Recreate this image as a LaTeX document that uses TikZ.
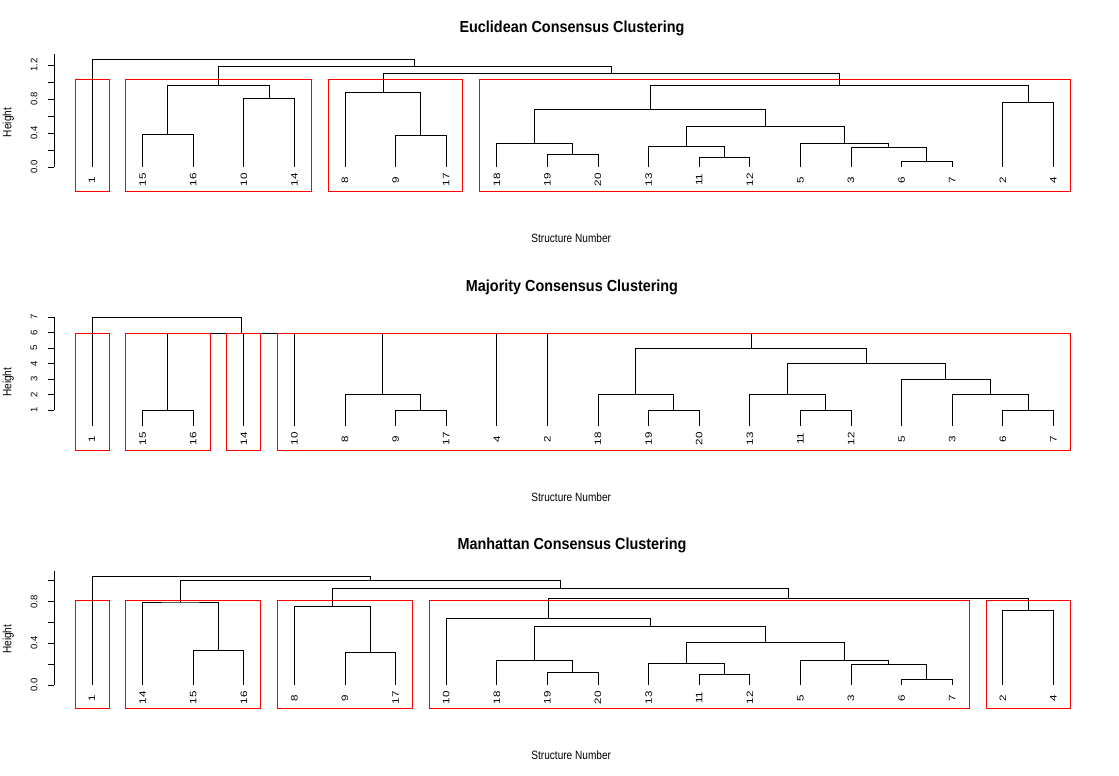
\documentclass[tikz,border=0pt]{standalone}
\usepackage{fontspec}
\setmainfont{Liberation Sans}
\newfontfamily\titlef[FakeStretch=0.9]{Liberation Sans}
\newfontfamily\labf[FakeStretch=0.84]{Liberation Sans}
\newfontfamily\leaff[FakeStretch=1.25]{Liberation Sans}
\begin{document}
\begin{tikzpicture}[x=1pt,y=-1pt,
  tree/.style={draw=black,line width=1pt},
  redbox/.style={draw=red,line width=1pt},
  leaflab/.style={rotate=90,font=\leaff\fontsize{9.3}{9.3}\selectfont,inner sep=0pt},
  ticklab/.style={rotate=90,font=\fontsize{9.5}{9.5}\selectfont,inner sep=0pt},
  axtitle/.style={rotate=90,font=\labf\fontsize{12}{12}\selectfont,inner sep=0pt},
  ptitle/.style={font=\titlef\bfseries\fontsize{16}{16}\selectfont,inner sep=0pt,anchor=base},
  xlab/.style={font=\labf\fontsize{12}{12}\selectfont,inner sep=0pt}]
\useasboundingbox[fill=white] (0,0) rectangle (1119,776);

% ================= Panel 1: Euclidean =================
\node[ptitle] (t1) at (572,32.3) {Euclidean Consensus Clustering};
\node[xlab] (x1) at (571.2,238.3) {Structure Number};
\node[axtitle] (y1) at (8.3,122.5) {Height};
\draw[tree] (54.3,167.3) -- (54.3,54.3);
\foreach \y in {167.3,150.3,133.3,116.3,99.3,82.3,65.3} \draw[tree] (47.7,\y) -- (54.3,\y);
\node[ticklab] (etk00) at (34,167.3) {0.0};
\node[ticklab] (etk04) at (34,133.3) {0.4};
\node[ticklab] (etk08) at (34,99.3) {0.8};
\node[ticklab] (etk12) at (34,65.3) {1.2};

\foreach \lab [count=\i] in {1,15,16,10,14,8,9,17,18,19,20,13,11,12,5,3,6,7,2,4} {
  \coordinate (e\lab) at ({92+50.6*(\i-1)},167.3);
  \node[leaflab] (el\lab) at ({92+50.6*(\i-1)},179.8) {\lab};
}
\coordinate (e1516) at (167.9,134.3);
\coordinate (e1014) at (269.1,98.3);
\coordinate (eA) at (218.5,85.3);
\coordinate (e917) at (420.9,135.3);
\coordinate (eB) at (383,92.3);
\coordinate (e1920) at (572.7,154.3);
\coordinate (e18x) at (534.75,143.3);
\coordinate (e1112) at (724.5,157.3);
\coordinate (e13x) at (686.55,146.3);
\coordinate (e67) at (926.9,161.3);
\coordinate (e3x) at (888.95,147.3);
\coordinate (e5x) at (844.7,143.3);
\coordinate (e13to7) at (765.6,126.3);
\coordinate (eleft) at (650.2,109.3);
\coordinate (e24) at (1028.1,102.3);
\coordinate (eC) at (839.1,85.3);
\coordinate (eBC) at (611.05,73.3);
\coordinate (eABC) at (414.8,66.3);
\coordinate (eroot) at (253.4,59.3);

\draw[tree] (e15) |- (e1516) -| (e16);
\draw[tree] (e10) |- (e1014) -| (e14);
\draw[tree] (e1516) |- (eA) -| (e1014);
\draw[tree] (e9) |- (e917) -| (e17);
\draw[tree] (e8) |- (eB) -| (e917);
\draw[tree] (e19) |- (e1920) -| (e20);
\draw[tree] (e18) |- (e18x) -| (e1920);
\draw[tree] (e11) |- (e1112) -| (e12);
\draw[tree] (e13) |- (e13x) -| (e1112);
\draw[tree] (e6) |- (e67) -| (e7);
\draw[tree] (e3) |- (e3x) -| (e67);
\draw[tree] (e5) |- (e5x) -| (e3x);
\draw[tree] (e13x) |- (e13to7) -| (e5x);
\draw[tree] (e18x) |- (eleft) -| (e13to7);
\draw[tree] (e2) |- (e24) -| (e4);
\draw[tree] (eleft) |- (eC) -| (e24);
\draw[tree] (eB) |- (eBC) -| (eC);
\draw[tree] (eA) |- (eABC) -| (eBC);
\draw[tree] (e1) |- (eroot) -| (eABC);

\draw[redbox] (75.4,79.3) rectangle (109.3,191.3);
\draw[redbox] (125.4,79.3) rectangle (311.4,191.3);
\draw[redbox] (328.2,79.3) rectangle (462.5,191.3);
\draw[redbox] (479.3,79.3) rectangle (1070.3,191.3);

% ================= Panel 2: Majority =================
\node[ptitle] (t2) at (572,291) {Majority Consensus Clustering};
\node[xlab] (x2) at (571.2,497) {Structure Number};
\node[axtitle] (y2) at (8.3,382.2) {Height};
\draw[tree] (54.3,410.3) -- (54.3,317.3);
\foreach \h in {1,...,7} {
  \draw[tree] (47.7,{425.8-15.5*\h}) -- (54.3,{425.8-15.5*\h});
  \node[ticklab] (mt\h) at (34,{425.8-15.5*\h}) {\h};
}
\foreach \lab [count=\i] in {1,15,16,14,10,8,9,17,4,2,18,19,20,13,11,12,5,3,6,7} {
  \coordinate (m\lab) at ({92+50.6*(\i-1)},426.3);
  \node[leaflab] (ml\lab) at ({92+50.6*(\i-1)},438.8) {\lab};
}
\coordinate (m1516) at (167.9,410.3);
\coordinate (m917) at (420.9,410.3);
\coordinate (m8x) at (382.95,394.8);
\coordinate (m1920) at (673.9,410.3);
\coordinate (m18x) at (635.95,394.8);
\coordinate (m1112) at (825.7,410.3);
\coordinate (m13x) at (787.75,394.8);
\coordinate (m67) at (1028.1,410.3);
\coordinate (m3x) at (990.15,394.8);
\coordinate (m5x) at (945.9,379.3);
\coordinate (m4x) at (866.8,363.8);
\coordinate (mbig) at (751.4,348.3);
\coordinate (mhsix) at (241.8,333);
\coordinate (mroot) at (166.9,317.3);

\draw[tree] (m15) |- (m1516) -| (m16);
\draw[tree] (m9) |- (m917) -| (m17);
\draw[tree] (m8) |- (m8x) -| (m917);
\draw[tree] (m19) |- (m1920) -| (m20);
\draw[tree] (m18) |- (m18x) -| (m1920);
\draw[tree] (m11) |- (m1112) -| (m12);
\draw[tree] (m13) |- (m13x) -| (m1112);
\draw[tree] (m6) |- (m67) -| (m7);
\draw[tree] (m3) |- (m3x) -| (m67);
\draw[tree] (m5) |- (m5x) -| (m3x);
\draw[tree] (m13x) |- (m4x) -| (m5x);
\draw[tree] (m18x) |- (mbig) -| (m4x);
\draw[tree] (m1516 |- mhsix) -- (mbig |- mhsix);
\foreach \c in {m1516,m14,m10,m8x,m4,m2,mbig} \draw[tree] (\c) -- (\c |- mhsix);
\draw[tree] (m1) |- (mroot) -| (mhsix);

\draw[redbox] (75.4,333) rectangle (109.3,450.3);
\draw[redbox] (125.4,333) rectangle (210.4,450.3);
\draw[redbox] (226.8,333) rectangle (260.7,450.3);
\draw[redbox] (277.5,333) rectangle (1070.3,450.3);

% ================= Panel 3: Manhattan =================
\node[ptitle] (t3) at (572,549.5) {Manhattan Consensus Clustering};
\node[xlab] (x3) at (571.2,755.7) {Structure Number};
\node[axtitle] (y3) at (8.3,639.3) {Height};
\draw[tree] (54.3,685.3) -- (54.3,571);
\foreach \y in {685.3,664.3,643.3,622.3,601.7,580.7} \draw[tree] (47.7,\y) -- (54.3,\y);
\node[ticklab] (htk00) at (34,685.3) {0.0};
\node[ticklab] (htk04) at (34,643.3) {0.4};
\node[ticklab] (htk08) at (34,601.7) {0.8};

\foreach \lab [count=\i] in {1,14,15,16,8,9,17,10,18,19,20,13,11,12,5,3,6,7,2,4} {
  \coordinate (h\lab) at ({92+50.6*(\i-1)},685.3);
  \node[leaflab] (hl\lab) at ({92+50.6*(\i-1)},697.8) {\lab};
}
\coordinate (h1516) at (218.5,650.3);
\coordinate (hA) at (180.55,602);
\coordinate (h917) at (370.3,652.3);
\coordinate (hB) at (332.35,606.3);
\coordinate (h1920) at (572.7,672.3);
\coordinate (h18x) at (534.75,660.3);
\coordinate (h1112) at (724.5,674.3);
\coordinate (h13x) at (686.55,663.3);
\coordinate (h67) at (926.9,679.3);
\coordinate (h3x) at (888.95,664.3);
\coordinate (h5x) at (844.7,660.3);
\coordinate (h13to7) at (765.6,642.3);
\coordinate (h18to7) at (650.2,626.3);
\coordinate (hC) at (548.2,618.3);
\coordinate (h24) at (1028.1,610.3);
\coordinate (hCD) at (788.15,598.3);
\coordinate (hBCD) at (560.25,588.3);
\coordinate (hABCD) at (370.4,580.3);
\coordinate (hroot) at (231.2,576.3);

\draw[tree] (h15) |- (h1516) -| (h16);
\draw[tree] (h14) |- (hA) -| (h1516);
\draw[tree] (h9) |- (h917) -| (h17);
\draw[tree] (h8) |- (hB) -| (h917);
\draw[tree] (h19) |- (h1920) -| (h20);
\draw[tree] (h18) |- (h18x) -| (h1920);
\draw[tree] (h11) |- (h1112) -| (h12);
\draw[tree] (h13) |- (h13x) -| (h1112);
\draw[tree] (h6) |- (h67) -| (h7);
\draw[tree] (h3) |- (h3x) -| (h67);
\draw[tree] (h5) |- (h5x) -| (h3x);
\draw[tree] (h13x) |- (h13to7) -| (h5x);
\draw[tree] (h18x) |- (h18to7) -| (h13to7);
\draw[tree] (h10) |- (hC) -| (h18to7);
\draw[tree] (h2) |- (h24) -| (h4);
\draw[tree] (hC) |- (hCD) -| (h24);
\draw[tree] (hB) |- (hBCD) -| (hCD);
\draw[tree] (hA) |- (hABCD) -| (hBCD);
\draw[tree] (h1) |- (hroot) -| (hABCD);

\draw[redbox] (75.4,600.3) rectangle (109.3,708.3);
\draw[redbox] (125.4,600.3) rectangle (260.4,708.3);
\draw[redbox] (277.5,600.3) rectangle (412.5,708.3);
\draw[redbox] (429.3,600.3) rectangle (969.3,708.3);
\draw[redbox] (986.1,600.3) rectangle (1070.3,708.3);
\end{tikzpicture}
\end{document}
